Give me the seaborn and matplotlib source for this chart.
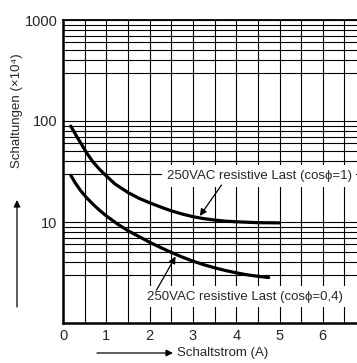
import numpy as np
import pandas as pd
import matplotlib
matplotlib.use("Agg")
import matplotlib.pyplot as plt
import seaborn as sns

# curve values (current in A, switching cycles x10^4)
strom_cos1 = [0.18, 0.32, 0.43, 0.55, 0.7, 0.85, 1.0, 1.2, 1.5, 1.75, 2.0,
              2.25, 2.5, 2.75, 3.0, 3.25, 3.5, 3.75, 4.0, 4.5, 5.0]
zyklen_cos1 = [89, 70, 58.5, 48, 39, 33, 28.6, 23.8, 19.6, 17.2, 15.5,
               14.1, 12.9, 12.0, 11.3, 10.8, 10.45, 10.2, 10.05, 9.85, 9.8]
strom_cos04 = [0.18, 0.28, 0.4, 0.55, 0.7, 0.85, 1.0, 1.25, 1.5, 1.75, 2.0,
               2.25, 2.5, 2.75, 3.0, 3.25, 3.5, 3.75, 4.0, 4.25, 4.5, 4.75]
zyklen_cos04 = [29, 24.5, 20.6, 17.3, 14.9, 13.0, 11.5, 9.6, 8.2, 7.2, 6.3,
                5.6, 5.0, 4.5, 4.1, 3.78, 3.52, 3.31, 3.14, 3.0, 2.9, 2.82]

label_cos1 = "250VAC resistive Last (cos\u03d5=1)"
label_cos04 = "250VAC resistive Last (cos\u03d5=0,4)"
x_ticks = [0, 1, 2, 3, 4, 5, 6]
y_ticks = [10, 100, 1000]
y_tick_labels = ["10", "100", "1000"]

sns.set_style("white")
plt.rcParams['font.family'] = ['Liberation Sans', 'DejaVu Sans']

df = pd.concat([
    pd.DataFrame({"strom": strom_cos1, "zyklen": zyklen_cos1, "last": "cos1"}),
    pd.DataFrame({"strom": strom_cos04, "zyklen": zyklen_cos04, "last": "cos04"}),
])

W, H = 357, 363
fig = plt.figure(figsize=(W / 100, H / 100), dpi=100)
ax = fig.add_axes([63 / W, 1 - 323 / H, 1 - 63 / W, (323 - 20) / H])

ax.set_yscale("log")
ax.set_xlim(0, (W - 63) / 43.3)
ax.set_ylim(1, 1000)

# grid: every 0.5 A and 3..9 in each decade (no 2)
ax.set_xticks(x_ticks)
ax.set_xticks(np.arange(0.5, 7, 1.0), minor=True)
minor_y = [m * 10 ** k for k in range(3) for m in range(3, 10)]
ax.set_yticks(y_ticks)
ax.set_yticks(minor_y, minor=True)
ax.set_yticklabels(y_tick_labels)
ax.yaxis.set_minor_formatter(plt.NullFormatter())
ax.grid(True, which="both", color="black", lw=0.8)
ax.tick_params(which="both", length=0, labelsize=10.5, pad=4)
ax.set_axisbelow(True)

sns.lineplot(data=df, x="strom", y="zyklen", units="last", estimator=None,
             color="black", lw=2.3, ax=ax, legend=False)
ax.set_xlabel("")
ax.set_ylabel("")

for side in ["left", "bottom"]:
    ax.spines[side].set_linewidth(1.8)
ax.spines["top"].set_linewidth(1.3)
ax.spines["right"].set_visible(False)
for s in ax.spines.values():
    s.set_color("black")

box = dict(boxstyle="square,pad=0.35", fc="white", ec="none")
arrow = dict(arrowstyle="-|>", color="black", lw=0.9, mutation_scale=10, shrinkA=0, shrinkB=0)

ax.text(4.53, 28.5, label_cos1, fontsize=9.5, ha="center", va="center", bbox=box, zorder=5)
ax.annotate("", xy=(3.16, 11.5), xytext=(3.66, 23.2), arrowprops=arrow, zorder=6)
ax.text(4.2, 1.82, label_cos04, fontsize=9.5, ha="center", va="center", bbox=box, zorder=5)
ax.annotate("", xy=(2.6, 4.55), xytext=(2.16, 2.12), arrowprops=arrow, zorder=6)

# axis labels with arrows, in figure pixels
fig.text(17 / W, 1 - 111 / H, "Schaltungen (\u00d710\u2074)", rotation=90,
         ha="center", va="center", fontsize=9.5)
ax.annotate("", xy=(17 / W, 1 - 200 / H), xytext=(17 / W, 1 - 307 / H),
            xycoords="figure fraction", textcoords="figure fraction",
            arrowprops=arrow, annotation_clip=False)
ax.annotate("", xy=(173 / W, 1 - 353 / H), xytext=(97 / W, 1 - 353 / H),
            xycoords="figure fraction", textcoords="figure fraction",
            arrowprops=arrow, annotation_clip=False)
fig.text(177 / W, 1 - 353 / H, "Schaltstrom (A)", ha="left", va="center", fontsize=9.5)

fig.savefig("out.png", dpi=100)
